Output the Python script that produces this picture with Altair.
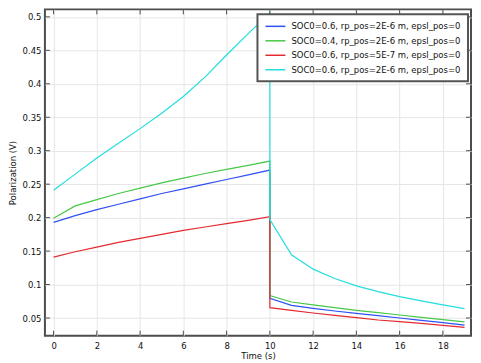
import altair as alt
import pandas as pd

# ---- data ----
time = [0, 1, 2, 3, 4, 5, 6, 7, 8, 9, 10, 10, 11, 12, 13, 14, 15, 16, 17, 18, 19]

labels = [
    "SOC0=0.6, rp_pos=2E-6 m, epsl_pos=0",
    "SOC0=0.4, rp_pos=2E-6 m, epsl_pos=0",
    "SOC0=0.6, rp_pos=5E-7 m, epsl_pos=0",
    "SOC0=0.6, rp_pos=2E-6 m, epsl_pos=0 ",
]
colors = ["#3050f5", "#48c848", "#e42a2e", "#22dede"]

blue = [0.193, 0.203, 0.212, 0.220, 0.228, 0.236, 0.243, 0.250, 0.257, 0.264, 0.271,
        0.0793, 0.0690, 0.0645, 0.0605, 0.0570, 0.0535, 0.0500, 0.0465, 0.0430, 0.0395]
green = [0.199, 0.2175, 0.227, 0.236, 0.244, 0.252, 0.259, 0.266, 0.272, 0.278, 0.2845,
         0.0837, 0.0739, 0.0695, 0.0655, 0.0615, 0.0580, 0.0545, 0.0510, 0.0475, 0.0443]
red = [0.141, 0.149, 0.156, 0.163, 0.169, 0.175, 0.181, 0.186, 0.191, 0.196, 0.2015,
       0.0654, 0.0614, 0.0575, 0.0540, 0.0505, 0.0470, 0.0445, 0.0420, 0.0390, 0.0360]
cyan = [0.241, 0.265, 0.289, 0.311, 0.333, 0.356, 0.381, 0.410, 0.443, 0.475, 0.506,
        0.197, 0.1444, 0.123, 0.109, 0.098, 0.0895, 0.082, 0.0755, 0.0695, 0.064]

x_ticks = [0, 2, 4, 6, 8, 10, 12, 14, 16, 18]
y_ticks = [0.05, 0.1, 0.15, 0.2, 0.25, 0.3, 0.35, 0.4, 0.45, 0.5]

x_domain = [-0.40, 19.30]
y_domain = [0.0236, 0.5112]

W, H = 427, 327

rows = []
for lab, vals in zip(labels, [blue, green, red, cyan]):
    for i, (t, v) in enumerate(zip(time, vals)):
        rows.append({"time": t, "value": v, "series": lab, "idx": i})
df = pd.DataFrame(rows)

xt = pd.DataFrame({"time": x_ticks})
yt = pd.DataFrame({"value": y_ticks})

font = "DejaVu Sans"
frame = "#4d4d4d"
fs = 8.5

x_axis = alt.Axis(values=x_ticks, title="Time (s)", grid=True, tickSize=0,
                  labelPadding=6, titlePadding=1, domain=False)
y_axis = alt.Axis(values=y_ticks, title="Polarization (V)", grid=True, tickSize=0,
                  labelPadding=4, titlePadding=5, domain=False,
                  labelExpr="format(datum.value, '~g')")

x_enc = alt.X("time:Q", scale=alt.Scale(domain=x_domain, nice=False, zero=False), axis=x_axis)
y_enc = alt.Y("value:Q", scale=alt.Scale(domain=y_domain, nice=False, zero=False), axis=y_axis)

lines = alt.Chart(df).mark_line(strokeWidth=1.2, clip=True).encode(
    x=x_enc,
    y=y_enc,
    color=alt.Color("series:N",
                    scale=alt.Scale(domain=labels, range=colors),
                    sort=labels,
                    title=None,
                    legend=alt.Legend(orient="none", legendX=213, legendY=5,
                                      symbolType="M-1,0H4", symbolSize=64,
                                      symbolStrokeWidth=1.5, labelFontSize=fs,
                                      labelFont=font, labelColor="#111",
                                      labelLimit=400, rowPadding=4.5,
                                      labelOffset=17,
                                      padding=7, fillColor="white",
                                      strokeColor="#555")),
    order="idx:Q",
)

bottom = alt.Chart(xt).mark_rule(color=frame, strokeWidth=1).encode(
    x=x_enc, y=alt.value(H), y2=alt.value(H - 5))
top = alt.Chart(xt).mark_rule(color=frame, strokeWidth=1).encode(
    x=x_enc, y=alt.value(0), y2=alt.value(5))
left = alt.Chart(yt).mark_rule(color=frame, strokeWidth=1).encode(
    y=y_enc, x=alt.value(0), x2=alt.value(5))
right = alt.Chart(yt).mark_rule(color=frame, strokeWidth=1).encode(
    y=y_enc, x=alt.value(W), x2=alt.value(W - 5))

chart = alt.layer(lines, bottom, top, left, right).properties(
    width=W, height=H,
    autosize=alt.AutoSizeParams(type="none"),
    padding={"left": 37, "top": 1, "right": 2, "bottom": 25},
).configure_view(
    stroke=frame, strokeWidth=2
).configure_axis(
    labelFont=font, labelFontSize=fs, labelColor="#111",
    titleFont=font, titleFontSize=fs, titleFontWeight="normal", titleColor="#111",
    gridColor="#e6e6e6", gridWidth=1,
).configure_legend(
    strokeWidth=2
)

chart.save("out.html", embed_options={"renderer": "svg", "actions": False})
